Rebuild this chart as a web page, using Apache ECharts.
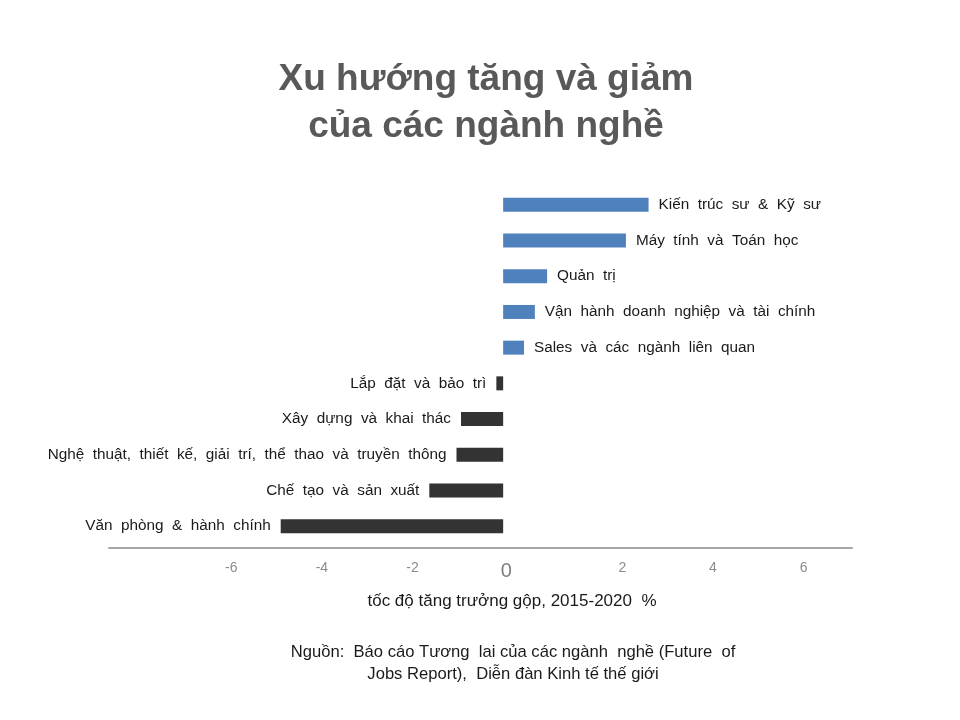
<!DOCTYPE html>
<html>
<head>
<meta charset="utf-8">
<script src="https://cdn.jsdelivr.net/npm/echarts@6/dist/echarts.min.js"></script>
<style>html,body{margin:0;padding:0;background:#fff}#c{width:960px;height:720px}</style>
</head>
<body>
<div id="c"></div>
<script>
// ---- data (top to bottom) ----
var categories = [
  'Kiến  trúc  sư  &  Kỹ  sư',
  'Máy  tính  và  Toán  học',
  'Quản  trị',
  'Vận  hành  doanh  nghiệp  và  tài  chính',
  'Sales  và  các  ngành  liên  quan',
  'Lắp  đặt  và  bảo  trì',
  'Xây  dựng  và  khai  thác',
  'Nghệ  thuật,  thiết  kế,  giải  trí,  thể  thao  và  truyền  thông',
  'Chế  tạo  và  sản  xuất',
  'Văn  phòng  &  hành  chính'
];
var growth = [3.21, 2.71, 0.97, 0.70, 0.46, -0.15, -0.93, -1.03, -1.63, -4.91];
var tickValues = [-6, -4, -2, 0, 2, 4, 6];
var tickLabels = ['-6', '-4', '-2', '0', '2', '4', '6'];
var titleText = 'Xu hướng tăng và giảm\ncủa các ngành nghề';
var axisNameText = 'tốc độ tăng trưởng gộp, 2015-2020  %';
var sourceText = 'Nguồn:  Báo cáo Tương  lai của các ngành  nghề (Future  of\nJobs Report),  Diễn đàn Kinh tế thế giới';

// layout: the source places positive tick labels shifted right
var posShift = 0.63, zeroShift = 0.07;
var labelPos = tickValues.map(function (v) { return v > 0 ? v + posShift : (v === 0 ? zeroShift : v); });

var chart = echarts.init(document.getElementById('c'));
var FONT = '"Liberation Sans", Arial, sans-serif';

chart.setOption({
  backgroundColor: '#ffffff',
  animation: false,
  title: [
    { text: titleText, left: 481, top: 51, textAlign: 'center',
      textStyle: { fontFamily: FONT, fontSize: 37, fontWeight: 'bold', color: '#595959', lineHeight: 47 } },
    { text: axisNameText, left: 507, top: 588, textAlign: 'center',
      textStyle: { fontFamily: FONT, fontSize: 17, fontWeight: 'normal', color: '#1a1a1a' } },
    { text: sourceText, left: 508, top: 636, textAlign: 'center',
      textStyle: { fontFamily: FONT, fontSize: 16.6, fontWeight: 'normal', color: '#1a1a1a', lineHeight: 22 } }
  ],
  grid: { left: 109, right: 108, top: 187, height: 357, containLabel: false },
  xAxis: {
    type: 'value', min: -8.7, max: 7.7, offset: 4,
    axisLine: { show: true, lineStyle: { color: '#a6a6a6', width: 2 } },
    axisTick: { show: false },
    splitLine: { show: false },
    axisLabel: {
      customValues: labelPos,
      margin: 13,
      fontFamily: FONT, fontSize: 14, color: '#8c8c8c',
      formatter: function (val) {
        var best = 0, d = 1e9;
        for (var i = 0; i < labelPos.length; i++) {
          var dd = Math.abs(labelPos[i] - val);
          if (dd < d) { d = dd; best = i; }
        }
        var t = tickLabels[best];
        return t === '0' ? '{z|' + t + '}' : t;
      },
      rich: { z: { fontSize: 20, color: '#808080', fontFamily: FONT, padding: [0, 0, 4, 0] } }
    }
  },
  yAxis: {
    type: 'category', data: categories, inverse: true,
    axisLine: { show: false }, axisTick: { show: false }, axisLabel: { show: false }, splitLine: { show: false }
  },
  series: [{
    type: 'bar',
    barWidth: 14,
    data: growth.map(function (v, i) {
      return {
        value: v,
        itemStyle: { color: v >= 0 ? '#4f81bd' : '#333333' },
        label: { show: true, position: v >= 0 ? 'right' : 'left', distance: 10,
          formatter: categories[i], fontFamily: FONT, fontSize: 15.3, color: '#1a1a1a' }
      };
    })
  }]
});
</script>
</body>
</html>
